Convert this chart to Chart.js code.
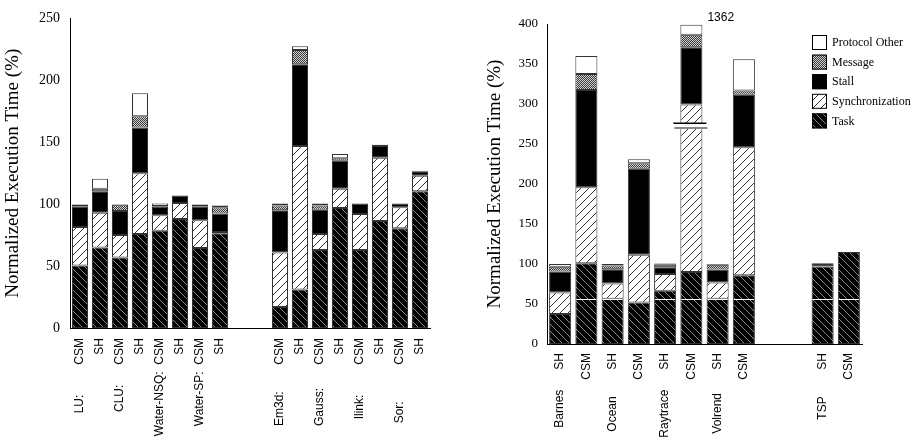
<!DOCTYPE html>
<html>
<head>
<meta charset="utf-8">
<title>Normalized Execution Time</title>
<script src="https://cdn.jsdelivr.net/npm/chart.js@4.4.1/dist/chart.umd.min.js"></script>
<style>
  html, body { margin: 0; padding: 0; background: #fff; }
  #wrap { display: flex; width: 914px; height: 442px; }
  canvas { display: block; }
</style>
</head>
<body>
<div id="wrap">
  <canvas id="leftChart" width="457" height="442"></canvas>
  <canvas id="rightChart" width="457" height="442"></canvas>
</div>
<script>
// ---------- DATA ----------
const seriesNames = ['Task', 'Synchronization', 'Stall', 'Message', 'Protocol Other'];

// group name + spaces + protocol (spaces push the group name down the rotated label)
const sp = (n) => ' '.repeat(n);

const leftLabels = [
  'LU:' + sp(9) + 'CSM', 'SH', 'CLU:' + sp(6) + 'CSM', 'SH',
  'Water-NSQ:' + sp(2) + 'CSM', 'SH', 'Water-SP:' + sp(2) + 'CSM', 'SH',
  '', '',
  'Em3d:' + sp(8) + 'CSM', 'SH', 'Gauss:' + sp(7) + 'CSM', 'SH',
  'Ilink:' + sp(9) + 'CSM', 'SH', 'Sor:' + sp(11) + 'CSM', 'SH',
];
const leftTask    = [50.5, 65, 57, 76, 78.5, 88, 64.5, 76.5, null, null, 17, 31, 63, 97, 63, 86.5, 80.5, 110.5];
const leftSync    = [31, 28, 18, 49, 12.5, 13, 22.5, 1, null, null, 44, 116, 13, 15.5, 29, 51, 17, 12.5];
const leftStall   = [16.5, 17.5, 19.5, 37, 7, 6, 11, 15, null, null, 34, 66, 19.5, 22.5, 8.5, 9.5, 3, 3.5];
const leftMessage = [1.5, 2, 5, 9, 0.5, 0, 1.5, 5, null, null, 4, 11.5, 3.5, 2, 0, 1, 0, 0.5];
const leftOther   = [0.5, 8, 0.5, 18.5, 2, 0, 0.5, 1.5, null, null, 1.5, 3, 1.5, 3.5, 0, 0, 0, 0];
const leftYMax = 250;

const rightLabels = [
  'Barnes' + sp(6) + 'SH', 'CSM', 'Ocean' + sp(8) + 'SH', 'CSM',
  'Raytrace' + sp(6) + 'SH', 'CSM', 'Volrend' + sp(7) + 'SH', 'CSM',
  '', '',
  'TSP' + sp(8) + 'SH', 'CSM',
];
const rightTask    = [37.5, 101, 56.5, 52, 66.5, 90, 56.5, 86, null, null, 97, 115];
const rightSync    = [27, 95, 19, 59.5, 21, 209.5, 20.5, 160, null, null, 0, 0];
const rightStall   = [26, 121.5, 18, 107.5, 8.5, 71.5, 16, 65.5, null, null, 4, 0];
const rightMessage = [6, 20, 4.5, 7, 3, 15.5, 6, 5.5, null, null, 0, 0];
const rightOther   = [3.5, 22.5, 2, 5, 1.5, 12.5, 1, 39, null, null, 0, 0];
const rightYMax = 400;

const yStep = 50;

// broken bar (Raytrace CSM) and its real total
const breakIndex = 5;
const breakTotal = '1362';
const breakFrom = 270;
const breakTo = 276;
const taskMark = 56; // white rule visible across the taller Task segments

const SANS = '"Liberation Sans", Arial, sans-serif';
const SERIF = '"Liberation Serif", "Times New Roman", serif';

Chart.defaults.color = '#000';

// ---------- FILL PATTERNS ----------
function tile(ctx, size, draw) {
  const c = document.createElement('canvas');
  c.width = size;
  c.height = size;
  draw(c.getContext('2d'), size);
  return ctx.createPattern(c, 'repeat');
}

function fills(ctx) {
  const task = tile(ctx, 7, (g, s) => {
    g.fillStyle = '#000';
    g.fillRect(0, 0, s, s);
    g.strokeStyle = '#8c8c8c';
    g.lineWidth = 1;
    g.beginPath();
    g.moveTo(0, 0); g.lineTo(s, s);
    g.moveTo(-1, s - 1); g.lineTo(1, s + 1);
    g.moveTo(s - 1, -1); g.lineTo(s + 1, 1);
    g.stroke();
  });
  const sync = tile(ctx, 8, (g, s) => {
    g.fillStyle = '#fff';
    g.fillRect(0, 0, s, s);
    g.strokeStyle = '#333';
    g.lineWidth = 1;
    g.beginPath();
    g.moveTo(0, s); g.lineTo(s, 0);
    g.moveTo(-1, 1); g.lineTo(1, -1);
    g.moveTo(s - 1, s + 1); g.lineTo(s + 1, s - 1);
    g.stroke();
  });
  const message = tile(ctx, 2, (g) => {
    g.fillStyle = '#d0d0d0';
    g.fillRect(0, 0, 2, 2);
    g.fillStyle = '#3a3a3a';
    g.fillRect(0, 0, 1, 1);
    g.fillRect(1, 1, 1, 1);
  });
  return [task, sync, '#000', message, '#fff'];
}

function buildDatasets(ctx, values, barPct) {
  const f = fills(ctx);
  return seriesNames.map((name, i) => ({
    label: name,
    data: values[i],
    backgroundColor: f[i],
    borderColor: '#333',
    borderWidth: 1,
    borderSkipped: false,
    barPercentage: barPct,
    categoryPercentage: 1,
  }));
}

function buildOptions(o) {
  return {
    responsive: false,
    animation: false,
    layout: { padding: { top: o.top, right: o.right, left: 0, bottom: 0 } },
    plugins: { legend: { display: false }, tooltip: { enabled: false } },
    scales: {
      x: {
        stacked: true,
        grid: { display: false, drawTicks: false },
        border: { display: true, color: '#000', width: 1 },
        ticks: {
          autoSkip: false,
          minRotation: 90,
          maxRotation: 90,
          padding: o.xPad,
          font: { family: SANS, size: 12 },
        },
        afterFit(scale) { scale.height = o.xHeight; },
      },
      y: {
        stacked: true,
        min: 0,
        max: o.yMax,
        grid: { display: false, drawTicks: false },
        border: { display: true, color: '#000', width: 1 },
        ticks: {
          stepSize: yStep,
          padding: o.yPad,
          font: { family: SERIF, size: o.tickSize },
        },
        title: {
          display: true,
          text: 'Normalized Execution Time (%)',
          font: { family: SERIF, size: 19 },
          padding: { top: o.titlePad, bottom: 0 },
        },
        afterFit(scale) { scale.width = o.yWidth; },
      },
    },
  };
}

// ---------- RIGHT CHART EXTRAS ----------
const boxLegend = {
  id: 'boxLegend',
  afterDraw(chart) {
    const { ctx } = chart;
    const items = chart.data.datasets.slice().reverse();
    ctx.save();
    ctx.font = '12px ' + SERIF;
    ctx.textBaseline = 'middle';
    ctx.textAlign = 'left';
    items.forEach((ds, i) => {
      const y = 35 + i * 19.6;
      ctx.fillStyle = ds.backgroundColor;
      ctx.fillRect(355, y, 15, 15);
      ctx.strokeStyle = '#000';
      ctx.lineWidth = 1;
      ctx.strokeRect(355.5, y + 0.5, 14, 14);
      ctx.fillStyle = '#000';
      ctx.fillText(ds.label, 375, y + 8);
    });
    ctx.restore();
  },
};

const axisBreak = {
  id: 'axisBreak',
  afterDatasetsDraw(chart) {
    const { ctx } = chart;
    const yScale = chart.scales.y;

    // white rule through Task
    const yMark = Math.round(yScale.getPixelForValue(taskMark)) + 0.5;
    ctx.save();
    ctx.strokeStyle = '#fff';
    ctx.lineWidth = 1;
    chart.getDatasetMeta(0).data.forEach((el, i) => {
      if (!(rightTask[i] > taskMark)) return;
      ctx.beginPath();
      ctx.moveTo(el.x - el.width / 2 + 1, yMark);
      ctx.lineTo(el.x + el.width / 2 - 1, yMark);
      ctx.stroke();
    });

    // the break
    const bar = chart.getDatasetMeta(1).data[breakIndex];
    const top = chart.getDatasetMeta(4).data[breakIndex];
    const half = bar.width / 2;
    const yHi = yScale.getPixelForValue(breakTo);
    const yLo = yScale.getPixelForValue(breakFrom);
    ctx.fillStyle = '#fff';
    ctx.fillRect(bar.x - half - 1, yHi, bar.width + 2, yLo - yHi);
    ctx.strokeStyle = '#000';
    ctx.lineWidth = 1.5;
    ctx.beginPath();
    ctx.moveTo(bar.x - half - 7, yHi);
    ctx.lineTo(bar.x + half + 4, yHi);
    ctx.stroke();
    ctx.strokeStyle = '#888';
    ctx.lineWidth = 2;
    ctx.beginPath();
    ctx.moveTo(bar.x - half - 6, yLo);
    ctx.lineTo(bar.x + half + 5, yLo);
    ctx.stroke();

    // real total
    ctx.font = '12px ' + SANS;
    ctx.fillStyle = '#000';
    ctx.textAlign = 'left';
    ctx.textBaseline = 'middle';
    ctx.fillText(breakTotal, bar.x + half + 5, top.y - 7);
    ctx.restore();
  },
};

// ---------- CHARTS ----------
const leftCtx = document.getElementById('leftChart').getContext('2d');
new Chart(leftCtx, {
  type: 'bar',
  data: {
    labels: leftLabels,
    datasets: buildDatasets(leftCtx, [leftTask, leftSync, leftStall, leftMessage, leftOther], 0.8),
  },
  options: buildOptions({
    top: 15, right: 27, xHeight: 114, yWidth: 70,
    xPad: 10, yPad: 10, tickSize: 14, titlePad: 2, yMax: leftYMax,
  }),
});

const rightCtx = document.getElementById('rightChart').getContext('2d');
new Chart(rightCtx, {
  type: 'bar',
  data: {
    labels: rightLabels,
    datasets: buildDatasets(rightCtx, [rightTask, rightSync, rightStall, rightMessage, rightOther], 0.84),
  },
  options: buildOptions({
    top: 24, right: 52, xHeight: 98, yWidth: 90,
    xPad: 9, yPad: 9, tickSize: 13, titlePad: 27, yMax: rightYMax,
  }),
  plugins: [axisBreak, boxLegend],
});
</script>
</body>
</html>
